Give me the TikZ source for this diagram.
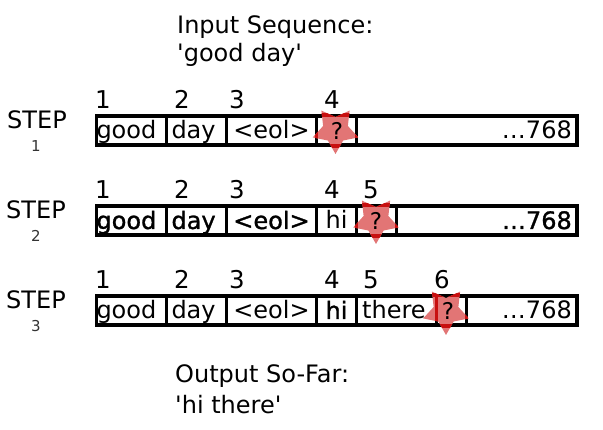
\documentclass[tikz,border=0pt]{standalone}
\usepackage{fontspec}
\setmainfont{DejaVu Sans}
\newfontfamily\fakeb[FakeBold=1.2]{DejaVu Sans}
\newfontfamily\plainf{DejaVu Sans}
\definecolor{starfill}{HTML}{E27575}
\definecolor{starline}{HTML}{C81010}
\newcommand{\starpts}{(90:24) -- (126:13) -- (162:24) -- (198:13) -- (234:24) -- (270:13) -- (306:24) -- (342:13) -- (18:24) -- (54:13) -- cycle}
\tikzset{
  cellbox/.style={draw=black,line width=3.2pt,rectangle,inner sep=0pt,outer sep=0pt,minimum height=29pt,
     text height=21pt,text depth=4pt,font=\fontsize{24}{24}\selectfont,anchor=west},
  leftcell/.style={align=left,text width=#1},
  bold/.style={font=\fontsize{24}{24}\fakeb},
  lab/.style={inner sep=0pt,font=\fontsize{24}{28}\plainf},
  sublab/.style={inner sep=0pt,font=\fontsize{15}{15}\selectfont,text=black!80},
  qmark/.style={inner sep=0pt,font=\fontsize{23}{23}\selectfont},
  numlab/.style={inner sep=0pt,text height=17.5pt,text depth=0pt,font=\fontsize{24.5}{24}\selectfont},
  tail/.style={inner sep=0pt,anchor=east,text height=21pt,text depth=4pt,font=\fontsize{24}{24}\selectfont},
  redline/.style={draw=starline,line width=3.2pt}
}
\begin{document}
\begin{tikzpicture}[x=1pt,y=-1pt]
\useasboundingbox (0,0) rectangle (603,430);
\fill[white] (0,0) rectangle (603,430);
% titles
\node[lab,anchor=west] (in1) at (177,27) {Input Sequence:};
\node[lab,anchor=west] (in2) at (177,55) {'good day'};
\node[lab,anchor=west] (out1) at (175,376.5) {Output So-Far:};
\node[lab,anchor=west] (out2) at (175,405) {'hi there'};
% step labels
\node[lab] (s1) at (37,120) {STEP};
\node[sublab] (s1n) at (36,146) {1};
\node[lab] (s2) at (36,210) {STEP};
\node[sublab] (s2n) at (36,236) {2};
\node[lab] (s3) at (36,300) {STEP};
\node[sublab] (s3n) at (36,326) {3};
% row 1
\node[numlab] (n11) at (103,100) {1};
\node[numlab] (n12) at (182,100) {2};
\node[numlab] (n13) at (237,100) {3};
\node[numlab] (n14) at (332,100) {4};
\node[cellbox,minimum width=70pt,leftcell=70pt] (a1) at (96.5,130.5) {good};
\node[cellbox,minimum width=60pt,leftcell=60pt] (a2) at (166.5,130.5) {\hspace*{5pt}day};
\node[cellbox,minimum width=90pt] (a3) at (226.5,130.5) {<eol>};
\node[cellbox,minimum width=40pt] (a4) at (316.5,130.5) {};
\node[cellbox,minimum width=220.5pt] (a5) at (356.5,130.5) {};
\node[tail] (a6) at (572,130.5) {…768};
% row 2
\node[numlab] (n21) at (103,190) {1};
\node[numlab] (n22) at (182,190) {2};
\node[numlab] (n23) at (237,190) {3};
\node[numlab] (n24) at (332,190) {4};
\node[numlab] (n25) at (371,190) {5};
\node[cellbox,bold,minimum width=70pt,leftcell=70pt] (b1) at (96.5,220.5) {good};
\node[cellbox,bold,minimum width=60pt,leftcell=60pt] (b2) at (166.5,220.5) {\hspace*{5pt}day};
\node[cellbox,bold,minimum width=90pt] (b3) at (226.5,220.5) {<eol>};
\node[cellbox,minimum width=40pt] (b4) at (316.5,220.5) {hi};
\node[cellbox,minimum width=40pt] (b5) at (356.5,220.5) {};
\node[cellbox,minimum width=180.5pt] (b6) at (396.5,220.5) {};
\node[tail,bold] (b7) at (572,220.5) {…768};
% row 3
\node[numlab] (n31) at (103,280) {1};
\node[numlab] (n32) at (182,280) {2};
\node[numlab] (n33) at (237,280) {3};
\node[numlab] (n34) at (332,280) {4};
\node[numlab] (n35) at (371,280) {5};
\node[numlab] (n36) at (442,280) {6};
\node[cellbox,minimum width=70pt,leftcell=70pt] (c1) at (96.5,310.5) {good};
\node[cellbox,minimum width=60pt,leftcell=60pt] (c2) at (166.5,310.5) {\hspace*{5pt}day};
\node[cellbox,minimum width=90pt] (c3) at (226.5,310.5) {<eol>};
\node[cellbox,bold,minimum width=40pt] (c4) at (316.5,310.5) {hi};
\node[cellbox,minimum width=80pt] (c5) at (356.5,310.5) {};
\node[cellbox,minimum width=30pt] (c6) at (436.5,310.5) {};
\node[cellbox,minimum width=110.5pt] (c7) at (466.5,310.5) {};
\node[inner sep=0pt,anchor=base west,font=\fontsize{24}{24}\selectfont] (c5t) at (362,319) {there};
\node[tail] (c8) at (572,310.5) {…768};
% stars
\begin{scope}[shift={(335.5,130)}]
  \fill[starfill] \starpts;
  \begin{scope}
    \clip \starpts;
    \draw[redline] (-30,-15) -- (30,-15);
    \draw[redline] (-30,16) -- (30,16);
    \draw[redline] (-19,-16) -- (-19,16);
    \draw[redline] (21,-16) -- (21,16);
  \end{scope}
\end{scope}
\begin{scope}[shift={(376,220)}]
  \fill[starfill] \starpts;
  \begin{scope}
    \clip \starpts;
    \draw[redline] (-30,-15) -- (30,-15);
    \draw[redline] (-30,16) -- (30,16);
    \draw[redline] (-19.5,-16) -- (-19.5,16);
    \draw[redline] (20.5,-16) -- (20.5,16);
  \end{scope}
\end{scope}
\begin{scope}[shift={(446,311)}]
  \fill[starfill] \starpts;
  \begin{scope}
    \clip \starpts;
    \draw[redline] (-30,-16) -- (30,-16);
    \draw[redline] (-30,15) -- (30,15);
    \draw[redline] (-9.5,-17) -- (-9.5,17);
    \draw[redline] (20.5,-17) -- (20.5,17);
  \end{scope}
\end{scope}
\node[qmark] (q1) at (337,131) {?};
\node[qmark] (q2) at (376,221) {?};
\node[qmark] (q3) at (448,311) {?};
\end{tikzpicture}
\end{document}
